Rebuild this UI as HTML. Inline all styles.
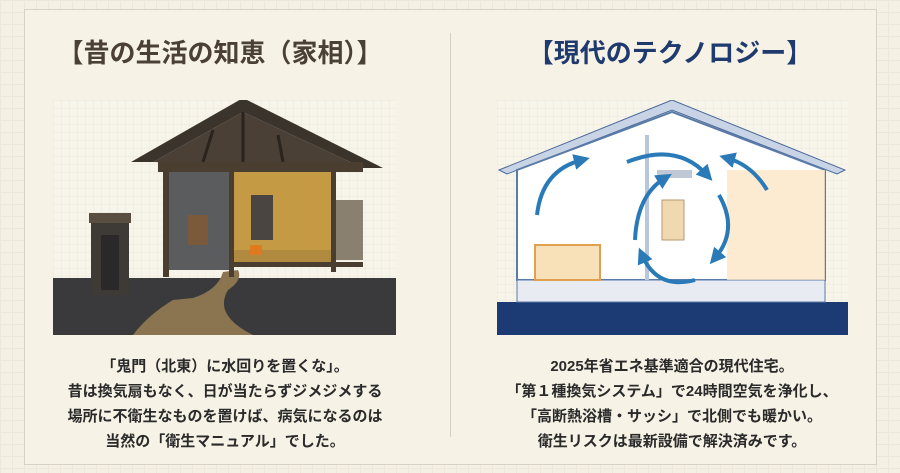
<!DOCTYPE html>
<html><head><meta charset="utf-8"><style>
body{margin:0;width:900px;height:473px;overflow:hidden;background:#f4f0e4;font-family:"Liberation Sans","Noto Sans CJK JP",sans-serif;}
.grid{position:absolute;left:0;top:0;width:900px;height:473px;background-image:linear-gradient(#e6e0d0 1px,transparent 1px),linear-gradient(90deg,#e6e0d0 1px,transparent 1px);background-size:12px 12px;opacity:.5}
.frame{position:absolute;left:24px;top:9px;width:851px;height:454px;border:1px solid #d8d2c2;background:#f6f2e6}
.div{position:absolute;left:450px;top:33px;width:1px;height:404px;background:#d6d0c0}
h1{position:absolute;top:33px;margin:0;font-size:26px;font-weight:bold;width:440px;text-align:center}
.t{position:absolute;top:354px;width:440px;text-align:center;font-size:15px;line-height:25px;color:#2a2a2a;font-weight:bold}
svg{position:absolute}
</style></head><body>
<div class="grid"></div>
<div class="frame"></div>
<div class="div"></div>
<h1 style="left:0;color:#4a4036">【昔の生活の知恵（家相）】</h1>
<h1 style="left:450px;color:#1f3a6e">【現代のテクノロジー】</h1>

<svg style="left:53px;top:100px" width="343" height="235" viewBox="0 0 343 235">
<defs><pattern id="g" width="8" height="8" patternUnits="userSpaceOnUse"><path d="M8 0H0V8" fill="none" stroke="#e4ded0" stroke-width="0.6"/></pattern></defs>
<rect width="343" height="235" fill="#f7f4ea"/><rect width="343" height="235" fill="url(#g)"/>
<rect y="178" width="343" height="57" fill="#3a3a3c"/>
<path d="M120 200 Q95 215 80 235 L200 235 Q160 215 175 190 Q190 180 185 170 L170 172 Q165 190 140 198 Z" fill="#8a7550"/>
<polygon points="78,62 190,-2 330,68 310,68 190,12 100,62" fill="#3b342c"/>
<polygon points="100,62 190,12 310,68" fill="#4a4036"/>
<g stroke="#2a241e" stroke-width="3"><line x1="150" y1="62" x2="160" y2="30"/><line x1="190" y1="12" x2="190" y2="62"/><line x1="230" y1="62" x2="225" y2="35"/></g>
<rect x="105" y="62" width="205" height="10" fill="#4a3e30"/>
<rect x="115" y="72" width="65" height="98" fill="#5a5c5e"/>
<rect x="180" y="72" width="100" height="82" fill="#c49a44"/>
<rect x="198" y="95" width="22" height="45" fill="#4a4540"/>
<rect x="180" y="150" width="100" height="12" fill="#b08a3e"/>
<rect x="197" y="145" width="12" height="10" fill="#e07a20"/>
<rect x="280" y="100" width="30" height="60" fill="#8a8070"/>
<rect x="110" y="72" width="6" height="105" fill="#4a3e30"/>
<rect x="176" y="72" width="5" height="105" fill="#4a3e30"/>
<rect x="278" y="72" width="5" height="100" fill="#4a3e30"/>
<rect x="180" y="162" width="130" height="5" fill="#4a3e30"/>
<rect x="135" y="115" width="20" height="30" fill="#7a5a3a"/>
<rect x="36" y="113" width="42" height="10" fill="#5a4e40"/>
<rect x="38" y="123" width="38" height="72" fill="#3e3a36"/>
<rect x="48" y="135" width="18" height="55" fill="#2a2828"/>
</svg>

<svg style="left:497px;top:100px" width="351" height="235" viewBox="0 0 351 235">
<defs><pattern id="g2" width="8" height="8" patternUnits="userSpaceOnUse"><path d="M8 0H0V8" fill="none" stroke="#e4ded0" stroke-width="0.6"/></pattern>
<marker id="a" markerWidth="4" markerHeight="4" refX="2" refY="2" orient="auto"><path d="M0,0L4,2L0,4Z" fill="#2a7ab8"/></marker></defs>
<rect width="351" height="235" fill="#f7f4ea"/><rect width="351" height="235" fill="url(#g2)"/>
<rect y="202" width="351" height="33" fill="#1c3a74"/>
<polygon points="2,70 175,0 348,70 340,74 175,10 10,74" fill="#c8d4e6" stroke="#4a6a9a"/>
<polygon points="20,70 175,12 328,70 328,180 20,180" fill="#ffffff" stroke="#5a7aa8" stroke-width="2"/>
<rect x="20" y="180" width="308" height="22" fill="#e8ecf2" stroke="#5a7aa8"/>
<rect x="148" y="35" width="4" height="145" fill="#b8c6dc"/>
<rect x="160" y="70" width="35" height="8" fill="#c0c8d6"/>
<rect x="165" y="100" width="22" height="40" fill="#f0d8b0" stroke="#b89a70"/>
<rect x="230" y="70" width="98" height="110" fill="#fbe6c6" opacity=".8"/>
<rect x="38" y="145" width="65" height="35" fill="#f8e0b8" stroke="#e0a050" stroke-width="2"/>
<g fill="none" stroke="#2a7ab8" stroke-width="4" marker-end="url(#a)">
<path d="M40 115 Q45 70 85 60"/><path d="M130 62 Q180 42 210 75"/><path d="M222 95 Q242 130 218 158"/><path d="M198 180 Q160 190 145 155"/><path d="M138 140 Q140 95 168 78"/><path d="M270 90 Q255 65 230 58"/>
</g>
</svg>

<div class="t" style="left:5px">「鬼門（北東）に水回りを置くな」。<br>昔は換気扇もなく、日が当たらずジメジメする<br>場所に不衛生なものを置けば、病気になるのは<br>当然の「衛生マニュアル」でした。</div>
<div class="t" style="left:452px">2025年省エネ基準適合の現代住宅。<br>「第１種換気システム」で24時間空気を浄化し、<br>「高断熱浴槽・サッシ」で北側でも暖かい。<br>衛生リスクは最新設備で解決済みです。</div>
</body></html>
